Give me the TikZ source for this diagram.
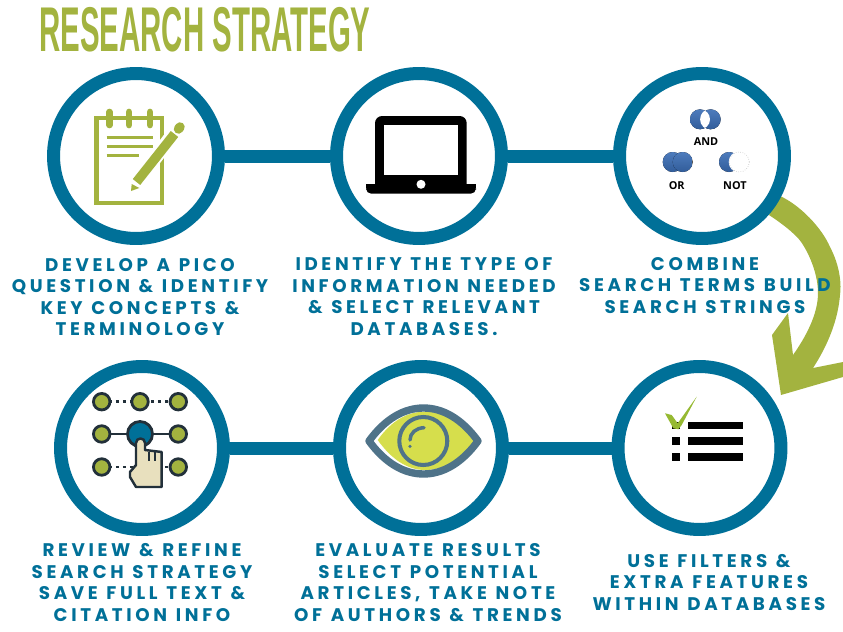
\documentclass[tikz,border=0pt]{standalone}
\usepackage{fontspec}
\usepackage{tikz}
\usetikzlibrary{positioning,calc}
\definecolor{mTeal}{RGB}{0,112,152}
\definecolor{mOlive}{RGB}{163,179,63}
\definecolor{mCheck}{RGB}{150,185,50}
\definecolor{mBlue}{RGB}{58,109,181}
\definecolor{mSlate}{RGB}{79,115,137}
\definecolor{mLime}{RGB}{214,222,76}
\definecolor{mInk}{RGB}{34,48,58}
\definecolor{mHand}{RGB}{232,224,190}
\newfontfamily\titlefont[FakeStretch=0.465]{Liberation Sans}
\newfontfamily\capfont[LetterSpace=20,WordSpace=1.15]{Poppins}
\newfontfamily\vennfont{Open Sans}
\tikzset{
  ringnode/.style={circle,draw=mTeal,line width=7.4pt,fill=white,inner sep=0pt,minimum size=3.3cm},
  ringsmall/.style={ringnode,minimum size=3.26cm},
  linkline/.style={mTeal,line width=7.4pt},
  capnode/.style={mTeal,align=center,font=\capfont\bfseries\fontsize{10.4pt}{12.25pt}\selectfont},
  vennnode/.style={font=\vennfont\bfseries\fontsize{6.2pt}{7pt}\selectfont},
  padring/.style={mOlive,line width=3.8pt,line cap=round},
  padline/.style={mOlive,line width=1.9pt},
  venndisc/.style={top color=mBlue!90!white,bottom color=mBlue!85!black},
  dotnode/.style={circle,draw=mInk,line width=1.6pt,fill=mOlive,inner sep=0pt,minimum size=0.33cm},
  dotline/.style={mInk,line width=1.7pt,dash pattern=on 2pt off 2pt},
  listbar/.style={fill=black}
}
\begin{document}
\begin{tikzpicture}[x=0.02cm,y=-0.02cm]
    \useasboundingbox (0,0) rectangle (843,632);
    % Title
    \node[mOlive,anchor=west,inner sep=0pt,font=\titlefont\bfseries\fontsize{36pt}{36pt}\selectfont] (title) at (39,30) {RESEARCH STRATEGY};
    % Curved arrow
    \fill[mOlive] (780,196) .. controls (800,205) and (822,228) .. (830,247) .. controls (838,262) and (842,280) .. (840,295) .. controls (838,320) and (828,345) .. (813,368) -- (843,362) -- (843,377) -- (781,395) -- (772,335) -- (788,313) -- (793,355) .. controls (805,338) and (818,315) .. (818,293) .. controls (818,270) and (805,245) .. (797,237) .. controls (788,228) and (778,221) .. (769,215) -- cycle;
    % Rings
    \node[ringnode] (circPico) at (136,156) {};
    \node[ringnode] (circInfo) at (419,156) {};
    \node[ringnode] (circBool) at (702,156) {};
    \node[ringsmall] (circReview) at (142,448) {};
    \node[ringsmall] (circEval) at (421,448) {};
    \node[ringsmall] (circFilter) at (699.5,448) {};
    % Links
    \draw[linkline] (circPico) -- (circInfo);
    \draw[linkline] (circInfo) -- (circBool);
    \draw[linkline] (circReview) -- (circEval);
    \draw[linkline] (circEval) -- (circFilter);
    % Notepad
    \draw[mOlive,line width=2.6pt] (96.5,118) rectangle (162,203);
    \foreach \x in {109.5,129,150} \draw[padring] (\x,112) -- (\x,125);
    \draw[padline] (106.7,137.7) -- (152.7,137.7);
    \draw[padline] (106.7,146.3) -- (152.7,146.3);
    \draw[padline] (106.7,155.3) -- (139.3,155.3);
    \draw[white,line width=8pt] (136,183) -- (178,128);
    \draw[mOlive,line width=5.4pt] (136.5,182) -- (174.5,134);
    \draw[mOlive,line width=5.4pt,line cap=round] (178.5,129) -- (180,127);
    \fill[mOlive] (131,191) -- (131.7,184) -- (139.3,188) -- cycle;
    % Laptop
    \fill[black,rounded corners=4pt] (375,116) rectangle (466.7,190);
    \fill[white] (384.3,124.7) rectangle (458,175.3);
    \fill[black,rounded corners=3pt] (366,184.3) -- (476,184.3) -- (476,193.7) -- (366,193.7) -- cycle;
    \fill[black] (366,184.3) rectangle (476,188);
    \fill[white] (421,184.3) circle (4.5);
    % Venn discs
    \fill[venndisc] (700,119.3) circle (10);
    \fill[venndisc] (710.7,119.3) circle (10);
    \begin{scope}
      \clip (700,119.3) circle (10);
      \fill[white] (710.7,119.3) circle (10.6);
    \end{scope}
    \fill[venndisc] (672.7,162) circle (10);
    \fill[venndisc] (682.7,162) circle (10);
    \fill[venndisc] (729,162) circle (10);
    \fill[white] (739.3,162) circle (10.6);
    \draw[gray!60,line width=0.3pt,densely dotted] (739.3,162) circle (10);
    \node[vennnode] (vennAnd) at (706,141.3) {AND};
    \node[vennnode] (vennOr) at (676.7,185.7) {OR};
    \node[vennnode] (vennNot) at (735,186) {NOT};
    % Pattern of dots
    \draw[dotline] (101.7,401.7) -- (178.3,401.7);
    \draw[dotline] (101.7,467) -- (178.3,467);
    \draw[mInk,line width=1.5pt] (101.7,434) -- (178.3,434);
    \node[dotnode] (dotA) at (101.7,401.7) {};
    \node[dotnode] (dotB) at (140,401.7) {};
    \node[dotnode] (dotC) at (178.3,401.7) {};
    \node[dotnode] (dotD) at (101.7,434) {};
    \node[dotnode,fill=mTeal,minimum size=0.5cm] (dotE) at (140,434) {};
    \node[dotnode] (dotF) at (178.3,434) {};
    \node[dotnode] (dotG) at (101.7,467) {};
    \node[dotnode] (dotH) at (178.3,467) {};
    % Hand
    \draw[mInk,fill=mHand,line width=1.4pt,line join=round] (136,443) .. controls (136,437) and (145,437) .. (145,443) -- (145,450) -- (161.7,452) -- (161.7,487) -- (136,487) -- (130,477) -- (130,472) -- (136,465) -- cycle;
    \draw[mInk,line width=1pt] (149.3,452) -- (149.3,461);
    \draw[mInk,line width=1pt] (155.3,452) -- (155.3,461);
    % Eye
    \fill[mLime] (377.7,440) .. controls (392,420) and (408,411.7) .. (425,411.7) .. controls (445,411.7) and (460,422) .. (475,440) .. controls (460,459) and (445,470) .. (425,470) .. controls (408,470) and (392,460) .. (377.7,440) -- cycle;
    \draw[mSlate,line width=4.2pt,line join=round] (369,441) .. controls (385,419) and (404,408) .. (423.5,408) .. controls (443,408) and (462,419) .. (478,441) .. controls (462,463) and (443,474) .. (423.5,474) .. controls (404,474) and (385,463) .. (369,441) -- cycle;
    \draw[mSlate,line width=2.3pt] (423.3,441) circle (24);
    \draw[mSlate,line width=2pt,line cap=round] (424,427.7) .. controls (416,428) and (410,433) .. (410,440);
    \fill[mSlate] (410,446.3) circle (1.8);
    % Check list
    \foreach \y/\h in {421.7/429.3,437.3/445.3,453.3/461.3} {
      \fill[listbar] (671.7,\y) rectangle (680,\h);
      \fill[listbar] (687.7,\y) rectangle (743.3,\h);
    }
    \fill[mCheck] (665,413.3) -- (671.7,415) -- (677.7,423.3) -- (696.7,396.7) -- (681.7,425) -- (678.3,429.3) -- (673.3,428.3) -- cycle;
    % Captions
    \node[capnode] (capPico) at (140,297) {DEVELOP A PICO\\QUESTION \& IDENTIFY\\KEY CONCEPTS \&\\TERMINOLOGY};
    \node[capnode] (capInfo) at (424,296.5) {IDENTIFY THE TYPE OF\\INFORMATION NEEDED\\\& SELECT RELEVANT\\DATABASES.};
    \node[capnode] (capBool) at (705,285.5) {COMBINE\\SEARCH TERMS BUILD\\SEARCH STRINGS};
    \node[capnode] (capReview) at (142,582.5) {REVIEW \& REFINE\\SEARCH STRATEGY\\SAVE FULL TEXT \&\\CITATION INFO};
    \node[capnode] (capEval) at (428,582.5) {EVALUATE RESULTS\\SELECT POTENTIAL\\ARTICLES, TAKE NOTE\\OF AUTHORS \& TRENDS};
    \node[capnode] (capFilter) at (709,582.5) {USE FILTERS \&\\EXTRA FEATURES\\WITHIN DATABASES};
\end{tikzpicture}
\end{document}
